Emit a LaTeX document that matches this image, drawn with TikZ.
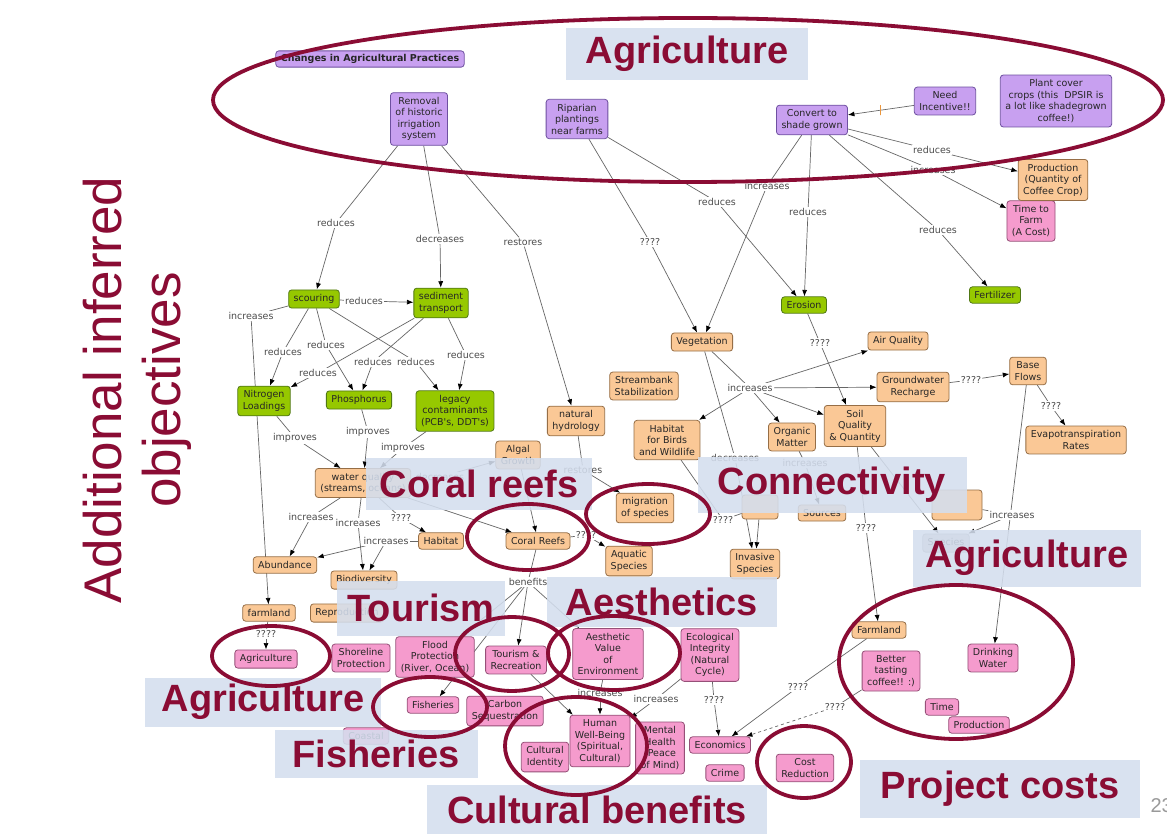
\documentclass[tikz,border=0pt]{standalone}
\usepackage{fontspec}
\newfontfamily\cmapfont{DejaVu Sans}
\newfontfamily\slidefont{Liberation Sans}
\usepackage{tikz}
\usetikzlibrary{arrows.meta,backgrounds}

\definecolor{lilac}{RGB}{200,160,240}
\definecolor{lilacline}{RGB}{110,80,160}
\definecolor{peach}{RGB}{250,200,150}
\definecolor{peachline}{RGB}{150,110,70}
\definecolor{lime}{RGB}{150,200,0}
\definecolor{limeline}{RGB}{80,120,20}
\definecolor{rose}{RGB}{245,155,205}
\definecolor{roseline}{RGB}{150,80,120}
\definecolor{wine}{RGB}{138,12,52}
\definecolor{paleblue}{RGB}{212,222,238}
\definecolor{tickorange}{RGB}{235,150,60}

\begin{document}
\begin{tikzpicture}[x=1pt, y=-1pt, >={Latex[length=6.5pt, width=5pt, color=black]},
	concept/.style={rounded corners=3pt, line width=0.8pt, align=center, inner xsep=5pt, inner ysep=4.5pt, text=black!85, font=\cmapfont\fontsize{9.5}{11.5}\selectfont},
	purplebox/.style={concept, draw=lilacline, fill=lilac},
	orangebox/.style={concept, draw=peachline, fill=peach},
	greenbox/.style={concept, draw=limeline, fill=lime},
	pinkbox/.style={concept, draw=roseline, fill=rose},
	greybox/.style={concept, draw=black!40, fill=black!20},
	link/.style={fill=white, inner sep=1pt, text=black!70, font=\cmapfont\fontsize{9.5}{11}\selectfont},
	conn/.style={draw=black!60, line width=0.7pt},
	tickmark/.style={draw=tickorange, line width=1pt, minimum width=0pt, minimum height=10pt, inner sep=0pt},
	heading/.style={fill=paleblue, fill opacity=0.88, text opacity=1, text=wine, font=\slidefont\bfseries\fontsize{38}{42}\selectfont},
	ring/.style={draw=wine, line width=3.8pt}]
	\useasboundingbox (0,0) rectangle (1167,834);

	% Nodes {practices}
	\node [purplebox, inner ysep=3.5pt, font=\cmapfont\bfseries\fontsize{9.5}{11}\selectfont] (chg) at (370,59) {Changes in Agricultural Practices};
	\node [purplebox] (rem)   at (419,119)  {Removal\\of historic\\irrigation\\system};
	\node [purplebox] (rip)   at (577,119)  {Riparian\\plantings\\near farms};
	\node [purplebox] (conv)  at (812,120)  {Convert to\\shade grown};
	\node [purplebox] (need)  at (945,101)  {Need\\Incentive!!};
	\node [purplebox] (plant) at (1056,101) {Plant cover\\crops (this\ \ DPSIR is\\a lot like shadegrown\\coffee!)};
	\node [pinkbox]   (time)  at (1031,221) {Time to\\Farm\\(A Cost)};
	\node [orangebox] (prod)  at (1053,180) {Production\\(Quantity of\\Coffee Crop)};

	% Nodes {pressures}
	\node [greenbox] (fert)   at (995,295) {Fertilizer};
	\node [greenbox] (ero)    at (804,305) {Erosion};
	\node [greenbox] (scour)  at (314,299) {scouring};
	\node [greenbox] (sed)    at (441,303) {sediment\\transport};
	\node [greenbox] (nitro)  at (264,401) {Nitrogen\\Loadings};
	\node [greenbox] (phos)   at (359,400) {Phosphorus};
	\node [greenbox] (legacy) at (455,411) {legacy\\contaminants\\(PCB's, DDT's)};

	% Nodes {state}
	\node [orangebox] (veg)      at (702,342)  {Vegetation};
	\node [orangebox] (air)      at (898,341)  {Air Quality};
	\node [orangebox] (gw)       at (913,387)  {Groundwater\\Recharge};
	\node [orangebox] (base)     at (1028,371) {Base\\Flows};
	\node [orangebox] (evap)     at (1076,440) {Evapotranspiration\\Rates};
	\node [orangebox] (soil)     at (855,426)  {Soil\\Quality\\\& Quantity};
	\node [orangebox] (organic)  at (792,437)  {Organic\\Matter};
	\node [orangebox] (stream)   at (644,386)  {Streambank\\Stabilization};
	\node [orangebox] (habbird)  at (667,440)  {Habitat\\for Birds\\and Wildlife};
	\node [orangebox] (nathyd)   at (576,421)  {natural\\hydrology};
	\node [orangebox] (algal)    at (518,455)  {Algal\\Growth};
	\node [orangebox] (wq)       at (363,483)  {water quality\\(streams, oceans)};
	\node [orangebox] (habitat)  at (441,541)  {Habitat};
	\node [orangebox] (abund)    at (285,565)  {Abundance};
	\node [orangebox] (biod)     at (364,580)  {Biodiversity};
	\node [orangebox] (farm)     at (269,613)  {farmland};
	\node [orangebox] (repr)     at (347,613)  {Reproduction};
	\node [orangebox] (coral)    at (538,541)  {Coral Reefs};
	\node [orangebox] (migr)     at (645,508)  {migration\\of species};
	\node [orangebox] (aquatic)  at (629,561)  {Aquatic\\Species};
	\node [orangebox] (invasive) at (755,564)  {Invasive\\Species};
	\node [orangebox, minimum width=36, minimum height=24] (hidbox) at (760,507) {};
	\node [orangebox] (sources)  at (822,513)  {Sources};
	\node [orangebox, minimum width=50, minimum height=30] (native) at (957,505) {};
	\node [greybox]   (species)  at (946,543)  {Species};
	\node [orangebox] (farmland) at (879,630)  {Farmland};

	% Nodes {benefits}
	\node [pinkbox] (agri)    at (266,659) {Agriculture};
	\node [pinkbox] (shore)   at (361,658) {Shoreline\\Protection};
	\node [pinkbox] (flood)   at (435,657) {Flood\\Protection\\(River, Ocean)};
	\node [pinkbox] (tour)    at (516,660) {Tourism \&\\Recreation};
	\node [pinkbox] (aesth)   at (608,654) {Aesthetic\\Value\\of\\Environment};
	\node [pinkbox] (eco)     at (710,655) {Ecological\\Integrity\\(Natural\\Cycle)};
	\node [pinkbox] (fish)    at (433,705) {Fisheries};
	\node [pinkbox] (carbon)  at (505,711) {Carbon\\Sequestration};
	\node [pinkbox] (coastal) at (366,736) {Coastal};
	\node [pinkbox] (human)   at (600,741) {Human\\Well-Being\\(Spiritual,\\Cultural)};
	\node [pinkbox] (cultid)  at (545,757) {Cultural\\Identity};
	\node [pinkbox] (mental)  at (660,748) {Mental\\Health\\(Peace\\of Mind)};
	\node [pinkbox] (econ)    at (720,745) {Economics};
	\node [pinkbox] (crime)   at (725,773) {Crime};
	\node [pinkbox] (cost)    at (805,768) {Cost\\Reduction};
	\node [pinkbox] (better)  at (891,671) {Better\\tasting\\coffee!! :)};
	\node [pinkbox] (drink)   at (993,658) {Drinking\\Water};
	\node [pinkbox] (timeb)   at (942,707) {Time};
	\node [pinkbox] (prodb)   at (979,725) {Production};

	% Links
	\node [link] (l1)  at (336,223)  {reduces};
	\node [link] (l2)  at (440,239)  {decreases};
	\node [link] (l3)  at (523,242)  {restores};
	\node [link] (l4)  at (650,242)  {????};
	\node [link] (l5)  at (717,202)  {reduces};
	\node [link] (l6)  at (767,186)  {increases};
	\node [link] (l7)  at (808,212)  {reduces};
	\node [link] (l8)  at (938,230)  {reduces};
	\node [link] (l9)  at (932,150)  {reduces};
	\node [link] (l10) at (933,170)  {increases};
	\node [link] (l11) at (364,301)  {reduces};
	\node [link] (l12) at (283,352)  {reduces};
	\node [link] (l13) at (326,345)  {reduces};
	\node [link] (l14) at (416,362)  {reduces};
	\node [link] (l15) at (373,362)  {reduces};
	\node [link] (l16) at (318,373)  {reduces};
	\node [link] (l17) at (466,355)  {reduces};
	\node [link] (l18) at (251,316)  {increases};
	\node [link] (l19) at (295,438)  {improves};
	\node [link] (l20) at (368,432)  {improves};
	\node [link] (l21) at (403,448)  {improves};
	\node [link] (l22) at (440,477)  {decreases};
	\node [link] (l23) at (311,517)  {increases};
	\node [link] (l24) at (358,523)  {increases};
	\node [link] (l25) at (401,518)  {????};
	\node [link] (l26) at (386,541)  {increases};
	\node [link] (l27) at (266,634)  {????};
	\node [link] (l28) at (583,470)  {restores};
	\node [link] (l29) at (586,535)  {????};
	\node [link] (l30) at (528,582)  {benefits};
	\node [link] (l31) at (750,388)  {increases};
	\node [link] (l32) at (735,458)  {decreases};
	\node [link] (l33) at (723,520)  {????};
	\node [link] (l34) at (820,343)  {????};
	\node [link] (l35) at (971,380)  {????};
	\node [link] (l36) at (1051,406) {????};
	\node [link] (l37) at (805,463)  {increases};
	\node [link] (l38) at (866,528)  {????};
	\node [link] (l39) at (1012,515) {increases};
	\node [link] (l40) at (798,687)  {????};
	\node [link] (l41) at (835,707)  {????};
	\node [link] (l42) at (714,700)  {????};
	\node [link] (l43) at (600,693)  {increases};
	\node [link] (l44) at (656,699)  {increases};

	% Paths
	\begin{pgfonlayer}{background}
	\fill [white] (0,0) rectangle (1167,834);
	\path [conn] (rem) edge (l1) (l1) edge [->] (scour);
	\path [conn] (rem) edge (l2) (l2) edge [->] (sed);
	\path [conn] (rem) edge (l3) (l3) edge [->] (nathyd);
	\path [conn] (rip) edge (l4) (l4) edge [->] (veg);
	\path [conn] (rip) edge (l5) (l5) edge [->] (ero);
	\path [conn] (conv) edge (l6) (l6) edge [->] (veg);
	\path [conn] (conv) edge (l7) (l7) edge [->] (ero);
	\path [conn] (conv) edge (l8) (l8) edge [->] (fert);
	\path [conn] (conv) edge (l9) (l9) edge [->] (prod);
	\path [conn] (conv) edge (l10) (l10) edge [->] (time);
	\path [conn] (need) edge [->] node [tickmark, pos=0.5] {} (conv);
	\path [conn] (scour) edge (l11) (l11) edge [->] (sed);
	\path [conn] (scour) edge (l12) (l12) edge [->] (nitro);
	\path [conn] (scour) edge (l13) (l13) edge [->] (phos);
	\path [conn] (scour) edge (l14) (l14) edge [->] (legacy);
	\path [conn] (sed) edge (l15) (l15) edge [->] (phos);
	\path [conn] (sed) edge (l16) (l16) edge [->] (nitro);
	\path [conn] (sed) edge (l17) (l17) edge [->] (legacy);
	\path [conn] (scour) edge (l18) (l18) edge [->] (farm);
	\path [conn] (nitro) edge (l19) (l19) edge [->] (wq);
	\path [conn] (phos) edge (l20) (l20) edge [->] (wq);
	\path [conn] (legacy) edge (l21) (l21) edge [->] (wq);
	\path [conn] (wq) edge (l22) (l22) edge [->] (algal);
	\path [conn] (wq) edge (l23) (l23) edge [->] (abund);
	\path [conn] (wq) edge (l24) (l24) edge [->] (biod);
	\path [conn] (wq) edge (l25) (l25) edge [->] (habitat);
	\path [conn] (habitat) edge (l26) (l26) edge [->] (abund) (l26) edge [->] (biod);
	\path [conn] (farm) edge (l27) (l27) edge [->] (agri);
	\path [conn] (nathyd) edge (l28) (l28) edge [->] (migr);
	\path [conn] (wq) edge [->] (coral);
	\path [conn] (algal) edge [->] (coral);
	\path [conn] (coral) edge (l29) (l29) edge [->] (aquatic);
	\path [conn] (coral) edge (l30) (l30) edge [->] (tour) (l30) edge [->] (flood)
		(l30) edge [->] (fish) (l30) edge [->] (aesth);
	\path [conn] (veg) edge (l31) (l31) edge [->] (air) (l31) edge [->] (gw)
		(l31) edge [->] (soil) (l31) edge [->] (organic) (l31) edge [->] (habbird);
	\path [conn] (veg) edge (l32) (l32) edge [->] (invasive);
	\path [conn] (habbird) edge (l33) (l33) edge (hidbox);
	\path [conn] (hidbox) edge [->] (invasive);
	\path [conn] (ero) edge (l34) (l34) edge [->] (soil);
	\path [conn] (gw) edge (l35) (l35) edge [->] (base);
	\path [conn] (base) edge (l36) (l36) edge [->] (evap);
	\path [conn] (base) edge [->] (drink);
	\path [conn] (organic) edge (l37) (l37) edge [->] (sources);
	\path [conn] (soil) edge (l38) (l38) edge [->] (farmland);
	\path [conn] (soil) edge [->] (species);
	\path [conn] (native) edge (l39) (l39) edge [->] (species);
	\path [conn] (farmland) edge (l40) (l40) edge [->] (econ);
	\path [conn] (better) edge (l41) (l41) edge [->, dashed] (econ);
	\path [conn] (eco) edge (l42) (l42) edge [->] (econ);
	\path [conn] (aesth) edge (l43) (l43) edge [->] (human);
	\path [conn] (eco) edge (l44) (l44) edge [->] (human);
	\path [conn] (tour) edge [->] (human);
	\end{pgfonlayer}

	% Labels
	\node [heading, minimum width=242, minimum height=52] (hagri)  at (687,54)   {Agriculture};
	\node [heading, minimum width=226, minimum height=52] (hcoral) at (479,484)  {Coral reefs};
	\node [heading, minimum width=269, minimum height=56] (hconn)  at (832,485)  {Connectivity};
	\node [heading, minimum width=228, minimum height=57] (hagrir) at (1027,558) {Agriculture};
	\node [heading, minimum width=168, minimum height=55] (htour)  at (421,608)  {Tourism};
	\node [heading, minimum width=230, minimum height=50] (haest)  at (662,602)  {Aesthetics};
	\node [heading, minimum width=236, minimum height=49] (hagril) at (263,702)  {Agriculture};
	\node [heading, minimum width=203, minimum height=48] (hfish)  at (376,754)  {Fisheries};
	\node [heading, minimum width=340, minimum height=50] (hcult)  at (597,810)  {Cultural benefits};
	\node [heading, minimum width=280, minimum height=58] (hcost)  at (1000,789) {Project costs};
	\node [rotate=90, align=center, text=wine, font=\slidefont\fontsize{53}{59}\selectfont] (side) at (137,390) {Additional inferred\\objectives};
	\node [anchor=west, text=black!40, font=\slidefont\fontsize{20}{24}\selectfont] (page) at (1147,806) {23};

	% Circles
	\draw [ring] (688,100) ellipse [x radius=475, y radius=82];
	\draw [ring] (528,537) ellipse [x radius=61, y radius=33];
	\draw [ring] (648,514) ellipse [x radius=62, y radius=30];
	\draw [ring] (271,656) ellipse [x radius=59, y radius=30];
	\draw [ring] (512,654) ellipse [x radius=57, y radius=37];
	\draw [ring] (614,653) ellipse [x radius=66, y radius=37];
	\draw [ring] (430,707) ellipse [x radius=57, y radius=30];
	\draw [ring] (576,746) ellipse [x radius=71, y radius=49];
	\draw [ring] (956,662) ellipse [x radius=117, y radius=77];
	\draw [ring] (804,762) ellipse [x radius=47, y radius=36];
\end{tikzpicture}
\end{document}
